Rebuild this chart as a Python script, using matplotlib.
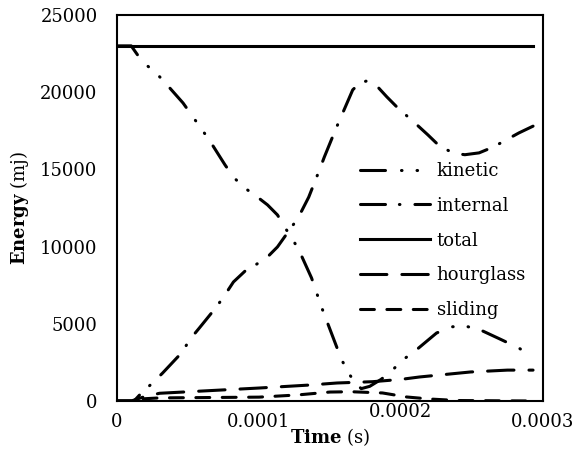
import matplotlib
matplotlib.use("Agg")
import matplotlib.pyplot as plt
from matplotlib.transforms import blended_transform_factory

plt.rcParams['font.family'] = ['DejaVu Serif']
plt.rcParams['mathtext.fontset'] = 'dejavuserif'
plt.rcParams['lines.scale_dashes'] = False

# ---- data (time in s, energy in mJ) ----
t_kinetic = [0, 1.0e-5, 1.8e-5, 2.7e-5, 3.4e-5, 4.65e-5, 5.5e-5, 6.5e-5, 7.6e-5, 8.2e-5,
             8.9e-5, 9.9e-5, 1.06e-4, 1.13e-4, 1.18e-4, 1.24e-4, 1.29e-4, 1.37e-4, 1.44e-4,
             1.48e-4, 1.55e-4, 1.59e-4, 1.64e-4, 1.68e-4, 1.72e-4, 1.78e-4, 1.86e-4, 1.94e-4,
             2.01e-4, 2.09e-4, 2.25e-4, 2.35e-4, 2.45e-4, 2.56e-4, 2.70e-4, 2.83e-4, 2.93e-4]
e_kinetic = [23000, 23000, 21950, 21300, 20600, 19300, 18200, 16900, 15300, 14500,
             13860, 13200, 12700, 12050, 11270, 10430, 9590, 7970, 6090,
             5120, 3430, 2530, 1680, 1150, 800, 950, 1400, 2000,
             2650, 3170, 4400, 4800, 4860, 4600, 4000, 3430, 2850]

t_internal = [0, 1.2e-5, 1.6e-5, 2.5e-5, 3.2e-5, 4.6e-5, 5.1e-5, 5.8e-5, 7.0e-5, 7.6e-5,
              8.2e-5, 9.0e-5, 9.9e-5, 1.06e-4, 1.13e-4, 1.25e-4, 1.30e-4, 1.35e-4, 1.42e-4,
              1.46e-4, 1.54e-4, 1.62e-4, 1.66e-4, 1.71e-4, 1.76e-4, 1.83e-4, 1.90e-4, 1.97e-4,
              2.12e-4, 2.19e-4, 2.27e-4, 2.37e-4, 2.45e-4, 2.55e-4, 2.65e-4, 2.83e-4, 2.93e-4]
e_internal = [0, 0, 400, 1170, 1800, 3170, 3950, 4730, 6090, 6870,
              7710, 8400, 8900, 9330, 9980, 11530, 12300, 13200, 14830,
              15800, 17600, 19300, 20150, 20600, 20730, 20400, 19700, 19050,
              17820, 17230, 16520, 16050, 15950, 16070, 16450, 17360, 17800]

t_total = [0, 2.93e-4]
e_total = [23000, 23000]

t_hourglass = [0, 1.0e-5, 2.0e-5, 3.0e-5, 1.0e-4, 1.36e-4, 1.55e-4, 1.80e-4, 2.0e-4,
               2.13e-4, 2.49e-4, 2.75e-4, 2.93e-4]
e_hourglass = [0, 0, 300, 500, 840, 1036, 1166, 1250, 1400,
               1555, 1880, 2000, 2000]

t_sliding = [0, 1.0e-5, 1.3e-5, 2.0e-5, 3.0e-5, 1.0e-4, 1.27e-4, 1.5e-4, 1.65e-4,
             1.87e-4, 2.04e-4, 2.2e-4, 2.4e-4, 2.93e-4]
e_sliding = [0, 0, 100, 150, 200, 250, 390, 580, 600,
             520, 260, 130, 30, 0]

x_ticks = [0, 0.0001, 0.0002, 0.0003]
x_labels = ["0", "0.0001", "0.0002", "0.0003"]
y_ticks = [0, 5000, 10000, 15000, 20000, 25000]
y_labels = ["0", "5000", "10000", "15000", "20000", "25000"]

# ---- figure ----
fig = plt.figure(figsize=(5.79, 4.5), dpi=100)
ax = fig.add_axes([0.2021, 0.1089, 0.9378 - 0.2021, 0.9667 - 0.1089])

lw = 2.2
dot = 0.4
kw = dict(color='black', lw=lw, dash_capstyle='round', solid_capstyle='butt')
ax.plot(t_kinetic, e_kinetic, label='kinetic',
        dashes=(18, 11.5, dot, 10.8, dot, 10.8), **kw)
ax.plot(t_internal, e_internal, label='internal', dashes=(18, 10, dot, 10.8), **kw)
ax.plot(t_total, e_total, label='total', color='black', lw=lw)
ax.plot(t_hourglass, e_hourglass, label='hourglass', dashes=(19, 10.8), **kw)
ax.plot(t_sliding, e_sliding, label='sliding', dashes=(10, 9), **kw)

ax.set_xlim(0, 0.0003)
ax.set_ylim(0, 25000)
ax.set_xticks(x_ticks)
# the third label is drawn separately (it sits higher in the reference)
ax.set_xticklabels([lab if i != 2 else "" for i, lab in enumerate(x_labels)])
ax.set_yticks(y_ticks)
ax.set_yticklabels(y_labels)
ax.tick_params(axis='both', length=0, labelsize=13)
ax.tick_params(axis='x', pad=8.5)
ax.tick_params(axis='y', pad=14)
for s in ax.spines.values():
    s.set_linewidth(1.5)

trans = blended_transform_factory(ax.transData, fig.transFigure)
ax.text(x_ticks[2], 1 - 412 / 450, x_labels[2], transform=trans, ha='center', va='center',
        fontsize=13, clip_on=False)

fig.text(330 / 579, 1 - 437 / 450, r"$\mathbf{Time}$ (s)", ha='center', va='center', fontsize=13)
fig.text(20 / 579, 1 - 208 / 450, r"$\mathbf{Energy}$ (mj)", ha='center', va='center',
         rotation=90, fontsize=13)

leg = ax.legend(loc='upper left', bbox_to_anchor=(360 / 579, 1 - 162 / 450),
                bbox_transform=fig.transFigure, frameon=False, fontsize=13,
                handlelength=3.9, handletextpad=0.35, labelspacing=0.93, borderpad=0,
                borderaxespad=0)

fig.savefig('out.png', dpi=100)
